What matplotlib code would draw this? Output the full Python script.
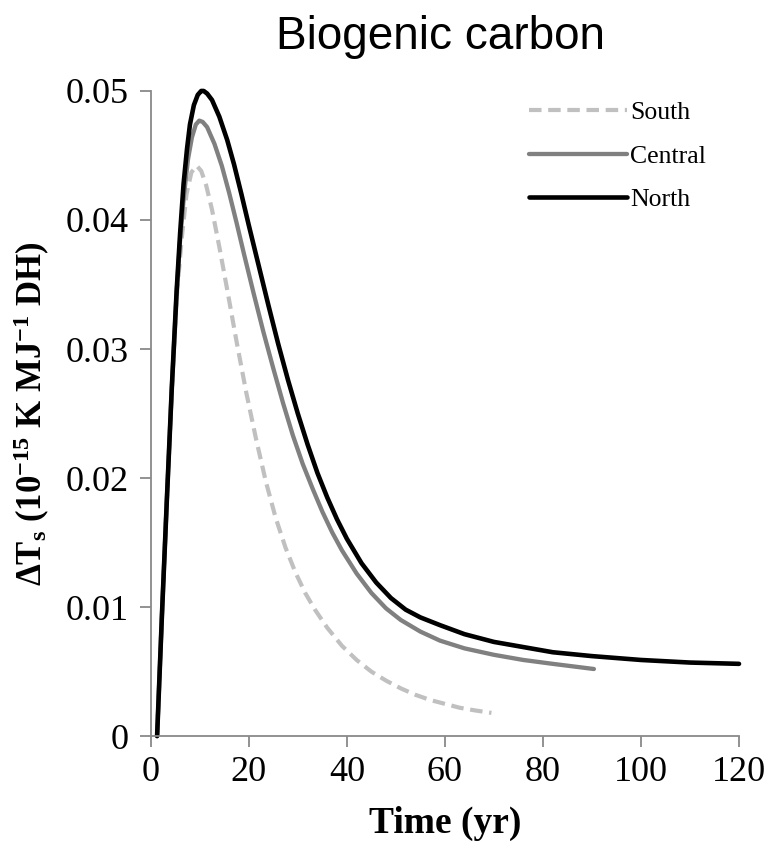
import matplotlib
matplotlib.use("Agg")
import matplotlib.pyplot as plt

# values
north_t = [1.3, 2.3, 3.3, 4.3, 5.3, 6.0, 6.7, 7.4, 8.0, 8.8, 9.6, 10.3, 10.8, 11.5,
           12.5, 14.0, 15.6, 17.0, 18.5, 20.0, 22.0, 24.0, 26.0, 28.0, 30.0, 32.0,
           34.0, 36.0, 38.0, 40.0, 43.0, 46.0, 49.0, 52.0, 55.0, 59.0, 64.0, 70.0,
           76.0, 82.0, 90.0, 100.0, 110.0, 120.0]
north_v = [0.0, 0.0095, 0.0184, 0.0270, 0.0346, 0.0390, 0.0428, 0.0455, 0.0474, 0.0489,
           0.0497, 0.0500, 0.0500, 0.0498, 0.0493, 0.0480, 0.0462, 0.0443, 0.0420, 0.0396,
           0.0365, 0.0334, 0.0304, 0.0276, 0.0250, 0.0226, 0.0204, 0.0185, 0.0168, 0.0153,
           0.0134, 0.0119, 0.0107, 0.0098, 0.0092, 0.0086, 0.0079, 0.0073, 0.0069, 0.0065,
           0.0062, 0.0059, 0.0057, 0.0056]

central_t = [1.3, 2.3, 3.3, 4.3, 5.3, 6.0, 6.8, 7.6, 8.4, 9.2, 9.9, 10.6, 11.5, 13.0,
             14.5, 16.0, 17.5, 19.0, 21.0, 23.0, 25.0, 27.0, 29.0, 31.0, 33.0, 35.0,
             37.0, 39.0, 42.0, 45.0, 48.0, 51.0, 55.0, 59.0, 64.0, 70.0, 76.0, 82.0,
             90.4]
central_v = [0.0, 0.0095, 0.0184, 0.0270, 0.0345, 0.0385, 0.0420, 0.0447, 0.0464, 0.0474,
             0.0477, 0.0476, 0.0472, 0.0459, 0.0442, 0.0421, 0.0398, 0.0374, 0.0343, 0.0313,
             0.0285, 0.0258, 0.0233, 0.0211, 0.0192, 0.0174, 0.0158, 0.0144, 0.0126, 0.0111,
             0.0099, 0.0090, 0.0081, 0.0074, 0.0068, 0.0063, 0.0059, 0.0056, 0.0052]

south_t = [1.3, 2.3, 3.3, 4.3, 5.3, 6.3, 7.3, 8.3, 9.4, 10.3, 11.3, 12.5, 14.0, 15.6,
           17.5, 19.5, 21.5, 23.5, 25.5, 27.5, 29.5, 31.5, 33.5, 36.0, 39.0, 42.0, 45.0,
           48.0, 51.0, 54.0, 57.0, 60.0, 63.0, 66.0, 69.5]
south_v = [0.0, 0.0095, 0.0184, 0.0268, 0.0340, 0.0385, 0.0420, 0.0437, 0.0442, 0.0438,
           0.0427, 0.0408, 0.0379, 0.0346, 0.0306, 0.0266, 0.0230, 0.0197, 0.0169, 0.0146,
           0.0127, 0.0111, 0.0098, 0.0084, 0.0070, 0.0059, 0.0050, 0.0043, 0.0037, 0.0032,
           0.0028, 0.0025, 0.0022, 0.0020, 0.0018]

x_ticks = [0, 20, 40, 60, 80, 100, 120]
y_ticks = [0, 0.01, 0.02, 0.03, 0.04, 0.05]
y_tick_labels = ["0", "0.01", "0.02", "0.03", "0.04", "0.05"]

plt.rcParams["mathtext.fontset"] = "custom"
plt.rcParams["mathtext.rm"] = "Liberation Serif:bold"
plt.rcParams["mathtext.it"] = "Liberation Serif:bold"
plt.rcParams["mathtext.bf"] = "Liberation Serif:bold"

fig = plt.figure(figsize=(7.69, 8.5), dpi=100)
ax = fig.add_axes([0.196, 0.134, 0.765, 0.759])

spine_col = "#898989"

ax.plot(south_t, south_v, color="#c0c0c0", lw=3.0, dashes=(3.0, 1.6), label="South", clip_on=False)
ax.plot(central_t, central_v, color="#808080", lw=3.1, label="Central", clip_on=False,
        solid_capstyle="round")
ax.plot(north_t, north_v, color="black", lw=3.3, label="North", clip_on=False,
        solid_capstyle="round")

ax.set_xlim(0, 120)
ax.set_ylim(0, 0.05)
ax.set_xticks(x_ticks)
ax.set_yticks(y_ticks)
ax.set_yticklabels(y_tick_labels)

for s in ["top", "right"]:
    ax.spines[s].set_visible(False)
for s in ["left", "bottom"]:
    ax.spines[s].set_color(spine_col)
    ax.spines[s].set_linewidth(1.3)

ax.tick_params(axis="both", direction="out", color=spine_col, width=1.3, length=8,
               labelsize=26)
ax.tick_params(axis="y", pad=8)
ax.tick_params(axis="x", pad=6)
for lab in ax.get_xticklabels() + ax.get_yticklabels():
    lab.set_fontfamily("Liberation Serif")

ax.set_xlabel("Time (yr)", fontsize=27, fontweight="bold", family="Liberation Serif")
ax.xaxis.set_label_coords(0.5, -0.108)
ax.set_ylabel(r"ΔT$_\mathrm{s}$ (10$^\mathrm{-15}$ K MJ$^\mathrm{-1}$ DH)",
              fontsize=25, fontweight="bold", family="Liberation Serif")
ax.yaxis.set_label_coords(-0.167, 0.5)

fig.text(0.573, 0.957, "Biogenic carbon", ha="center", va="center",
         fontsize=33, family="Liberation Sans")

leg = ax.legend(loc="upper left", bbox_to_anchor=(0.626, 1.0), borderaxespad=0,
                frameon=False, prop={"family": "Liberation Serif", "size": 18.5},
                handlelength=3.8, handletextpad=0.12, labelspacing=0.8)

fig.savefig("out.png", dpi=100)
